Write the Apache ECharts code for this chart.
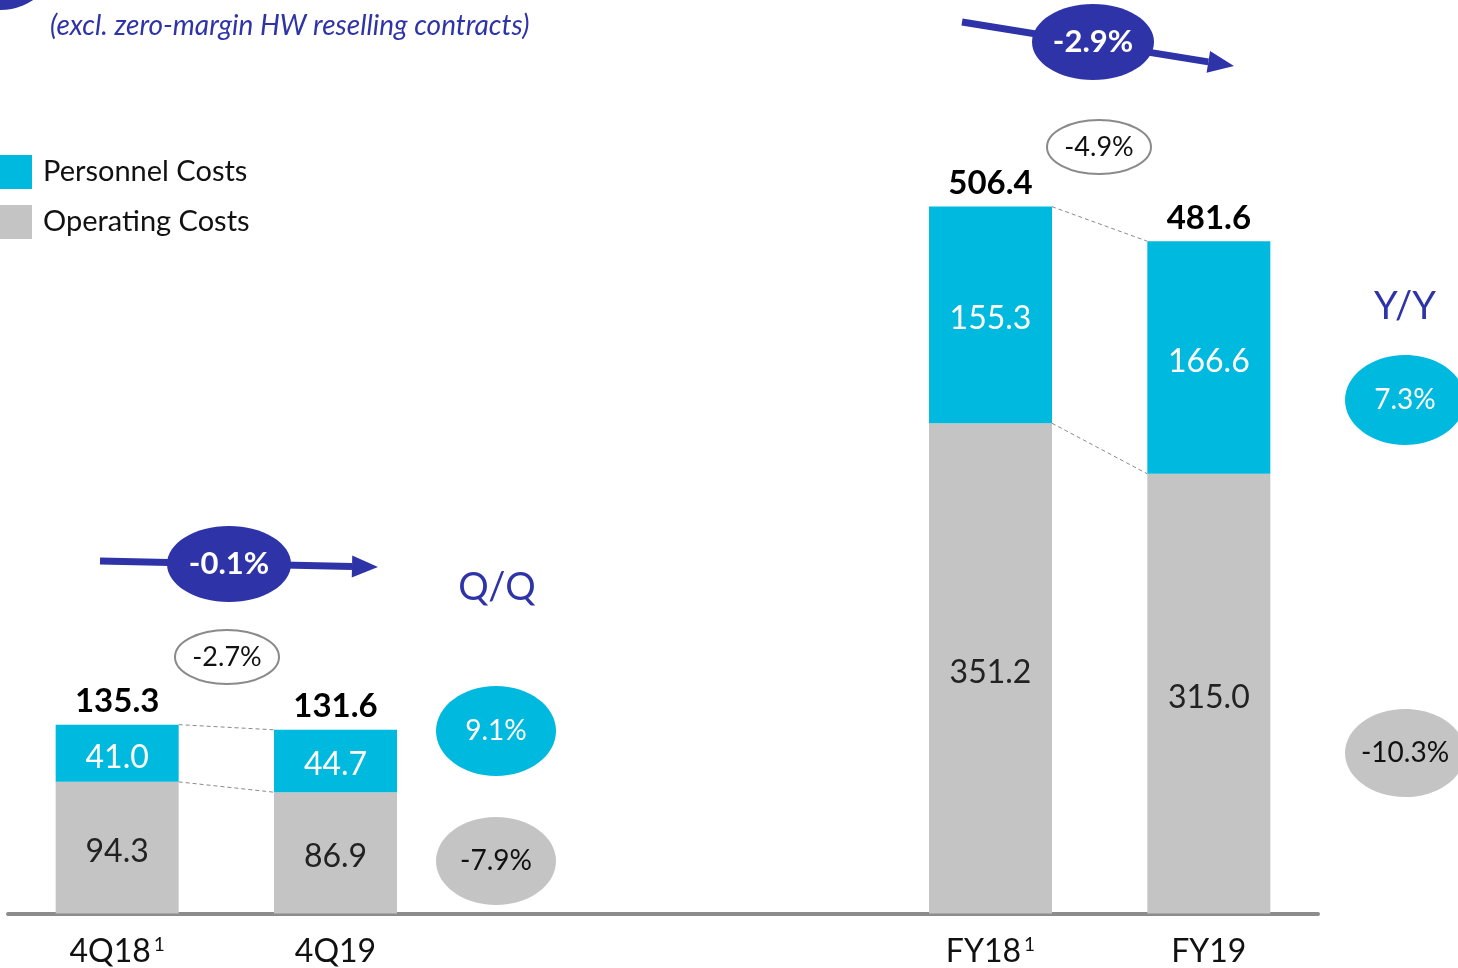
<!DOCTYPE html>
<html>
<head>
<meta charset="utf-8">
<script src="https://cdn.jsdelivr.net/npm/echarts@6/dist/echarts.min.js"></script>
<style>
  html, body { margin: 0; padding: 0; background: #fff; }
  #main { width: 1458px; height: 968px; }
</style>
</head>
<body>
<div id="main"></div>
<script>
// categories (two empty slots make the gap between quarter and year bars)
var categories = ['4Q18', '4Q19', '', '', 'FY18', 'FY19'];
var footnotes = ['1', '', '', '', '1', ''];
var operatingCosts = [94.3, 86.9, '-', '-', 351.2, 315.0];
var personnelCosts = [41.0, 44.7, '-', '-', 155.3, 166.6];
var totalCosts = [135.3, 131.6, '-', '-', 506.4, 481.6];
// bar pairs compared by the dashed connectors: [from index, to index]
var pairs = [[0, 1], [4, 5]];
var pairChange = ['-2.7%', '-4.9%'];
var totalChange = ['-0.1%', '-2.9%'];
var qqChange = ['9.1%', '-7.9%'];
var yyChange = ['7.3%', '-10.3%'];

var CYAN = '#00b9de';
var GREY = '#c4c4c4';
var NAVY = '#2e33a8';
var FONT = 'Lato, "Open Sans", sans-serif';

var myChart = echarts.init(document.getElementById('main'));

// connector lines go from right edge of one bar to left edge of the next
var slotPx = 1310 / categories.length;
var halfBar = 123 / slotPx / 2;
var connectorSeries = [];
pairs.forEach(function (p) {
  var a = p[0], b = p[1];
  [totalCosts, operatingCosts].forEach(function (arr) {
    connectorSeries.push({
      type: 'line',
      xAxisIndex: 1,
      symbol: 'none',
      silent: true,
      lineStyle: { color: '#8a8a8a', width: 1, type: [4, 3] },
      data: [[a + 0.5 + halfBar, arr[a]], [b + 0.5 - halfBar, arr[b]]],
      z: 1
    });
  });
});

function ellipse(cx, cy, rx, ry, fill, stroke, text, color, size, weight) {
  return [
    {
      type: 'ellipse',
      shape: { cx: cx, cy: cy, rx: rx, ry: ry },
      style: { fill: fill, stroke: stroke || null, lineWidth: stroke ? 2 : 0 },
      z: 10
    },
    {
      type: 'text',
      x: cx, y: cy,
      style: {
        text: text, fill: color, font: (weight || 'normal') + ' ' + size + 'px ' + FONT,
        align: 'center', verticalAlign: 'middle'
      },
      z: 11
    }
  ];
}

function arrow(x1, y1, x2, y2) {
  var dx = x2 - x1, dy = y2 - y1, len = Math.sqrt(dx * dx + dy * dy);
  var ux = dx / len, uy = dy / len, head = 26, w = 11;
  var bx = x2 - ux * head, by = y2 - uy * head;
  return [
    { type: 'line', shape: { x1: x1, y1: y1, x2: bx, y2: by }, style: { stroke: NAVY, lineWidth: 7 }, z: 9 },
    {
      type: 'polygon',
      shape: { points: [[x2, y2], [bx - uy * w, by + ux * w], [bx + uy * w, by - ux * w]] },
      style: { fill: NAVY },
      z: 9
    }
  ];
}

var graphics = [].concat(
  [
    { type: 'circle', shape: { cx: 0, cy: -50, r: 60 }, style: { fill: NAVY } },
    {
      type: 'text', x: 50, y: -14,
      style: { text: 'Underlying project costs', fill: NAVY, font: 'italic 28px ' + FONT, verticalAlign: 'middle' }
    },
    {
      type: 'text', x: 50, y: 26,
      style: { text: '(excl. zero-margin HW reselling contracts)', fill: NAVY, font: 'italic 28px ' + FONT, verticalAlign: 'middle' }
    },
    {
      type: 'text', x: 497, y: 588,
      style: { text: 'Q/Q', fill: NAVY, font: '38px ' + FONT, align: 'center', verticalAlign: 'middle' }
    },
    {
      type: 'text', x: 1405, y: 307,
      style: { text: 'Y/Y', fill: NAVY, font: '38px ' + FONT, align: 'center', verticalAlign: 'middle' }
    }
  ],
  arrow(100, 561, 378, 567),
  arrow(962, 22, 1234, 66),
  ellipse(229, 564, 62, 38, NAVY, null, totalChange[0], '#fff', 31, 'bold'),
  ellipse(1093, 42, 61, 38, NAVY, null, totalChange[1], '#fff', 31, 'bold'),
  ellipse(227, 657, 52, 27, '#fff', '#8a8a8a', pairChange[0], '#111', 27),
  ellipse(1099, 147, 52, 27, '#fff', '#8a8a8a', pairChange[1], '#111', 27),
  ellipse(496, 731, 60, 45, CYAN, null, qqChange[0], '#fff', 28),
  ellipse(496, 861, 60, 44, GREY, null, qqChange[1], '#111', 28),
  ellipse(1405, 400, 60, 45, CYAN, null, yyChange[0], '#fff', 28),
  ellipse(1405, 753, 60, 44, GREY, null, yyChange[1], '#111', 28)
);

var option = {
  animation: false,
  backgroundColor: '#fff',
  textStyle: { fontFamily: FONT },
  legend: {
    data: ['Personnel Costs', 'Operating Costs'],
    orient: 'vertical',
    left: 0,
    top: 155,
    padding: 0,
    itemWidth: 32,
    itemHeight: 34,
    itemGap: 16,
    icon: 'rect',
    textStyle: { fontSize: 29, color: '#111', padding: [14, 0, 0, 6], fontFamily: FONT }
  },
  grid: { left: 8, right: 140, top: 76, bottom: 53 },
  xAxis: [
    {
      type: 'category',
      data: categories,
      axisLine: { lineStyle: { color: '#8c8c8c', width: 4 } },
      axisTick: { show: false },
      axisLabel: {
        margin: 22,
        formatter: function (v, i) {
          return footnotes[i] ? '{a|' + v + '} {s|' + footnotes[i] + '}' : '{a|' + v + '}';
        },
        rich: {
          a: { fontSize: 32, color: '#111', fontFamily: FONT },
          s: { fontSize: 19, color: '#111', fontFamily: FONT, padding: [0, 0, 14, 0] }
        }
      }
    },
    { type: 'value', min: 0, max: categories.length, show: false }
  ],
  yAxis: { type: 'value', min: 0, max: 600, show: false },
  series: [
    {
      name: 'Operating Costs',
      type: 'bar',
      stack: 'cost',
      barWidth: 123,
      itemStyle: { color: GREY },
      label: {
        show: true, position: 'inside', offset: [0, 4], fontSize: 32, color: '#222', fontFamily: FONT,
        formatter: function (p) { return p.value.toFixed(1); }
      },
      data: operatingCosts
    },
    {
      name: 'Personnel Costs',
      type: 'bar',
      stack: 'cost',
      barWidth: 123,
      itemStyle: { color: CYAN },
      label: {
        show: true, position: 'inside', offset: [0, 4], fontSize: 32, color: '#fff', fontFamily: FONT,
        formatter: function (p) { return p.value.toFixed(1); }
      },
      data: personnelCosts
    },
    {
      name: 'Total',
      type: 'scatter',
      symbolSize: 1,
      itemStyle: { color: 'rgba(0,0,0,0)', opacity: 1 },
      label: {
        show: true, position: 'top', distance: 6, fontSize: 33, fontWeight: 'bold', color: '#000', fontFamily: FONT,
        formatter: function (p) { return p.value.toFixed(1); }
      },
      data: totalCosts,
      z: 5
    }
  ].concat(connectorSeries),
  graphic: graphics
};

myChart.setOption(option);
</script>
</body>
</html>
